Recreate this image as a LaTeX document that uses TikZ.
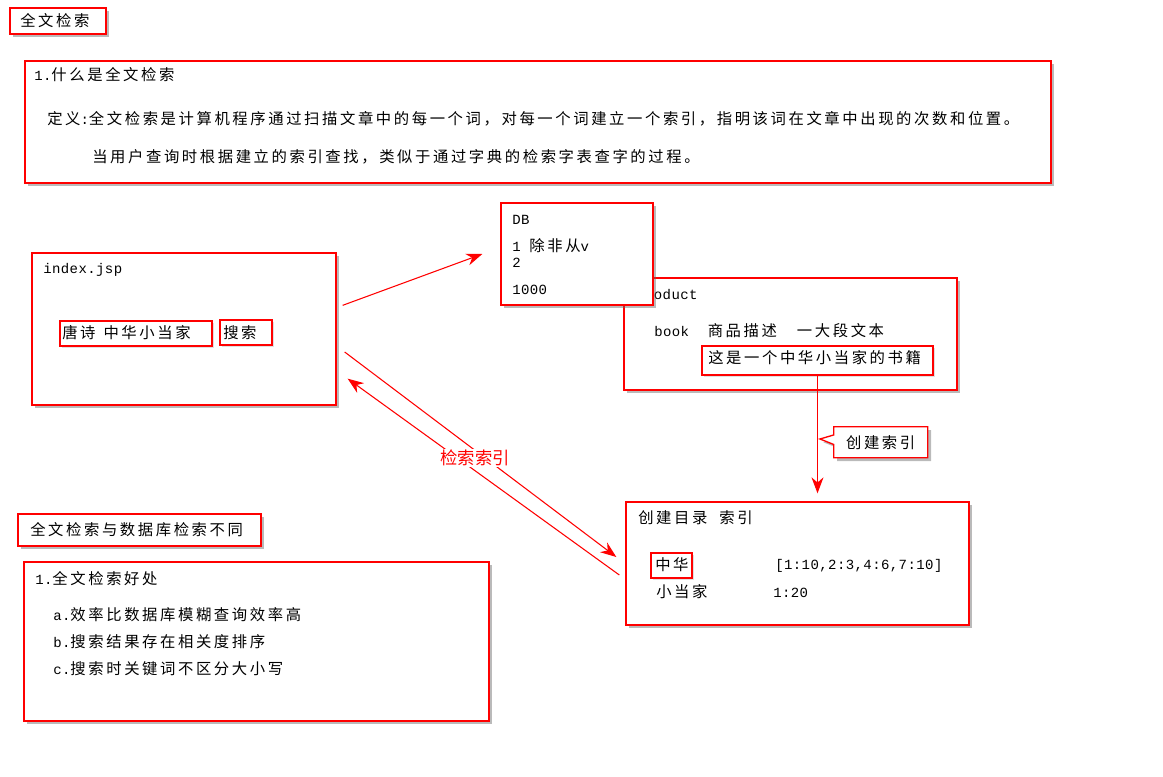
\documentclass[tikz,border=0pt]{standalone}
\usepackage{fontspec}
\setmainfont{Liberation Mono}[LetterSpace=3]
\newfontfamily\cjk{Noto Sans CJK SC}[LetterSpace=17]
\newfontfamily\cjklabel{Noto Sans CJK SC}
\usetikzlibrary{positioning,fit,calc,shadows,shapes.callouts,arrows.meta}

\begin{document}
\begin{tikzpicture}[
    x=0.75pt, y=-0.75pt,
    box/.style={draw=red, line width=1pt, fill=white, inner sep=0pt,
        drop shadow={shadow xshift=2.5pt, shadow yshift=-2.5pt, fill=black!60, opacity=0.45}},
    field/.style={draw=red, line width=0.8pt, fill=white, inner sep=0pt,
        drop shadow={shadow xshift=1.5pt, shadow yshift=-1.5pt, fill=black!40, opacity=0.3}},
    txt/.style={anchor=west, inner sep=0pt, font=\fontsize{10.5}{12}\selectfont},
    zh/.style={font=\cjk\fontsize{11.5}{13}\selectfont},
    arr/.style={-{Stealth[length=12pt, width=9pt]}, red, line width=0.8pt}
]
\useasboundingbox (0,0) rectangle (1163,777);

% headline
\node[box, fit={(10,8) (106,34)}] (head) {};
\node[txt, zh] (headtxt) at (20,21) {全文检索};

% what is full-text search
\node[box, fit={(25,61) (1051,183)}] (what) {};
\node[txt] (what1) at (34,75) {1.{\cjk\fontsize{11.5}{13}\selectfont 什么是全文检索}};
\node[txt] (what2) at (47,119) {{\cjk\fontsize{11.5}{13}\selectfont 定义}:{\cjk\fontsize{11.5}{13}\selectfont 全文检索是计算机程序通过扫描文章中的每一个词，对每一个词建立一个索引，指明该词在文章中出现的次数和位置。}};
\node[txt, zh] (what3) at (92,157) {当用户查询时根据建立的索引查找，类似于通过字典的检索字表查字的过程。};

% index.jsp
\node[box, fit={(32,253) (336,405)}] (idx) {};
\node[txt] (idxtxt) at (43,270) {index.jsp};
\node[field, fit={(60,321) (212,346)}] (query) {};
\node[txt, zh] (querytxt) at (62,333) {唐诗\hspace{6pt}中华小当家};
\node[field, fit={(220,320) (272,345)}] (btn) {};
\node[txt, zh] (btntxt) at (223,333) {搜索};

% product table
\node[box, fit={(624,278) (957,390)}] (prod) {};
\node[txt] (prodtxt) at (636,295) {Product};
\node[txt] (booktxt) at (654,331) {book\hspace{14pt}{\cjk\fontsize{11.5}{13}\selectfont 商品描述}\hspace{15pt}{\cjk\fontsize{11.5}{13}\selectfont 一大段文本}};
\node[field, fit={(702,346) (933,375)}] (desc) {};
\node[txt, zh] (desctxt) at (708,358) {这是一个中华小当家的书籍};

% database
\node[box, fit={(501,203) (653,305)}] (db) {};
\node[txt] (dbtxt) at (512,220) {DB};
\node[txt] (row1) at (512,246) {1 {\cjk\fontsize{11.5}{13}\selectfont 除非从}v};
\node[txt] (row2) at (512,263) {2};
\node[txt] (row3) at (512,290) {1000};

% index catalogue
\node[box, fit={(626,502) (969,625)}] (mulu) {};
\node[txt, zh] (mulutxt) at (638,518) {创建目录\hspace{9pt}索引};
\node[field, fit={(651,553) (692,578)}] (zhbox) {};
\node[txt, zh] (zhtxt) at (655,565) {中华};
\node[txt] (zhpos) at (775,566) {[1:10,2:3,4:6,7:10]};
\node[txt, zh] (xdj) at (656,592) {小当家};
\node[txt] (xdjpos) at (773,593) {1:20};

% differences
\node[box, fit={(18,514) (261,546)}] (diff) {};
\node[txt, zh] (difftxt) at (30,530) {全文检索与数据库检索不同};
\node[box, fit={(24,562) (489,721)}] (good) {};
\node[txt] (good1) at (35,579) {1.{\cjk\fontsize{11.5}{13}\selectfont 全文检索好处}};
\node[txt] (gooda) at (53,615) {a.{\cjk\fontsize{11.5}{13}\selectfont 效率比数据库模糊查询效率高}};
\node[txt] (goodb) at (53,642) {b.{\cjk\fontsize{11.5}{13}\selectfont 搜索结果存在相关度排序}};
\node[txt] (goodc) at (53,669) {c.{\cjk\fontsize{11.5}{13}\selectfont 搜索时关键词不区分大小写}};

% connectors
\draw[arr] ($(idx.north east)+(6,53)$) -- ($(db.west)+(-18,0)$);
\draw[arr] ($(idx.east)+(8,23)$) -- ($(mulu.west)+(-9,-6.5)$);
\draw[arr] ($(mulu.west)+(-6,11.5)$) -- ($(idx.south east)+(11,-27)$);
\draw[arr] (desc.south) -- ($(desc.south |- mulu.north)+(0,-8)$);
\coordinate (cpt) at (820,439);
\node[box, zh, rectangle callout, callout absolute pointer={(cpt)}, anchor=north west,
    minimum width=70.5pt, minimum height=23.25pt] (callout) at (833,426) {创建索引};
\node[font=\cjklabel\fontsize{13}{15}\selectfont, text=red, fill=white, inner sep=1pt] (lbl) at (475,458) {检索索引};
\end{tikzpicture}
\end{document}
